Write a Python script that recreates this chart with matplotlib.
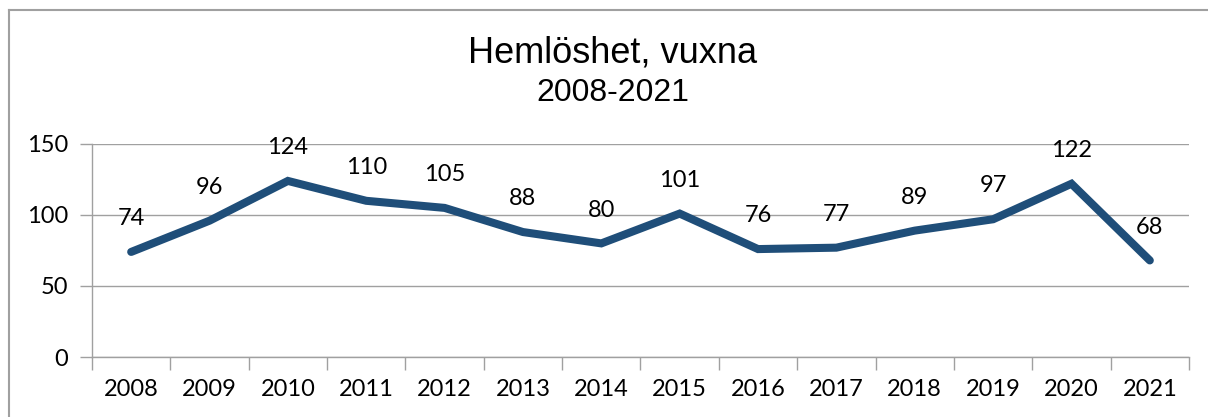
import matplotlib.pyplot as plt
from matplotlib.lines import Line2D

years = ['2008', '2009', '2010', '2011', '2012', '2013', '2014',
         '2015', '2016', '2017', '2018', '2019', '2020', '2021']
values = [74, 96, 124, 110, 105, 88, 80, 101, 76, 77, 89, 97, 122, 68]
yticks = [0, 50, 100, 150]

W, H = 1208, 417
fig = plt.figure(figsize=(W / 100, H / 100), dpi=100)

# ram runt diagrammet (bara vänster och överkant syns)
fig.add_artist(Line2D([9 / W, 9 / W], [0, 1 - 10 / H], transform=fig.transFigure,
                      color='#a0a0a0', lw=1.5))
fig.add_artist(Line2D([9 / W, 1], [1 - 10 / H, 1 - 10 / H], transform=fig.transFigure,
                      color='#a0a0a0', lw=1.5))

ax = fig.add_axes([92 / W, 1 - 357 / H, (1189 - 92) / W, (357 - 144) / H])

x = list(range(len(years)))
ax.plot(x, values, color='#1F4E79', lw=5.8, solid_capstyle='round',
        solid_joinstyle='miter', zorder=3)

for xi, v in zip(x, values):
    ax.annotate(str(v), (xi, v), xytext=(0, 24), textcoords='offset points',
                ha='center', va='center', fontsize=17, family='Lato', color='black')

ax.set_xlim(-0.5, len(years) - 0.5)
ax.set_ylim(0, 150)
ax.set_yticks(yticks)
ax.set_yticklabels([str(t) for t in yticks], family='Lato', fontsize=17)
ax.set_xticks(x)
ax.set_xticklabels(years, family='Lato', fontsize=17)
ax.set_xticks([i - 0.5 for i in range(len(years) + 1)], minor=True)

ax.tick_params(axis='x', which='major', length=0, pad=16)
ax.tick_params(axis='x', which='minor', length=9, color='#a0a0a0', width=1)
ax.tick_params(axis='y', length=9, color='#a0a0a0', width=1, pad=8)

ax.grid(axis='y', color='#a0a0a0', lw=1)
ax.set_axisbelow(True)
for s in ['top', 'right']:
    ax.spines[s].set_visible(False)
for s in ['left', 'bottom']:
    ax.spines[s].set_color('#a0a0a0')
    ax.spines[s].set_linewidth(1)

fig.text(613 / W, 1 - 53 / H, 'Hemlöshet, vuxna', ha='center', va='center',
         family='Liberation Sans', fontsize=26)
fig.text(613 / W, 1 - 93 / H, '2008-2021', ha='center', va='center',
         family='Liberation Sans', fontsize=23)

fig.savefig('out.png', dpi=100)
